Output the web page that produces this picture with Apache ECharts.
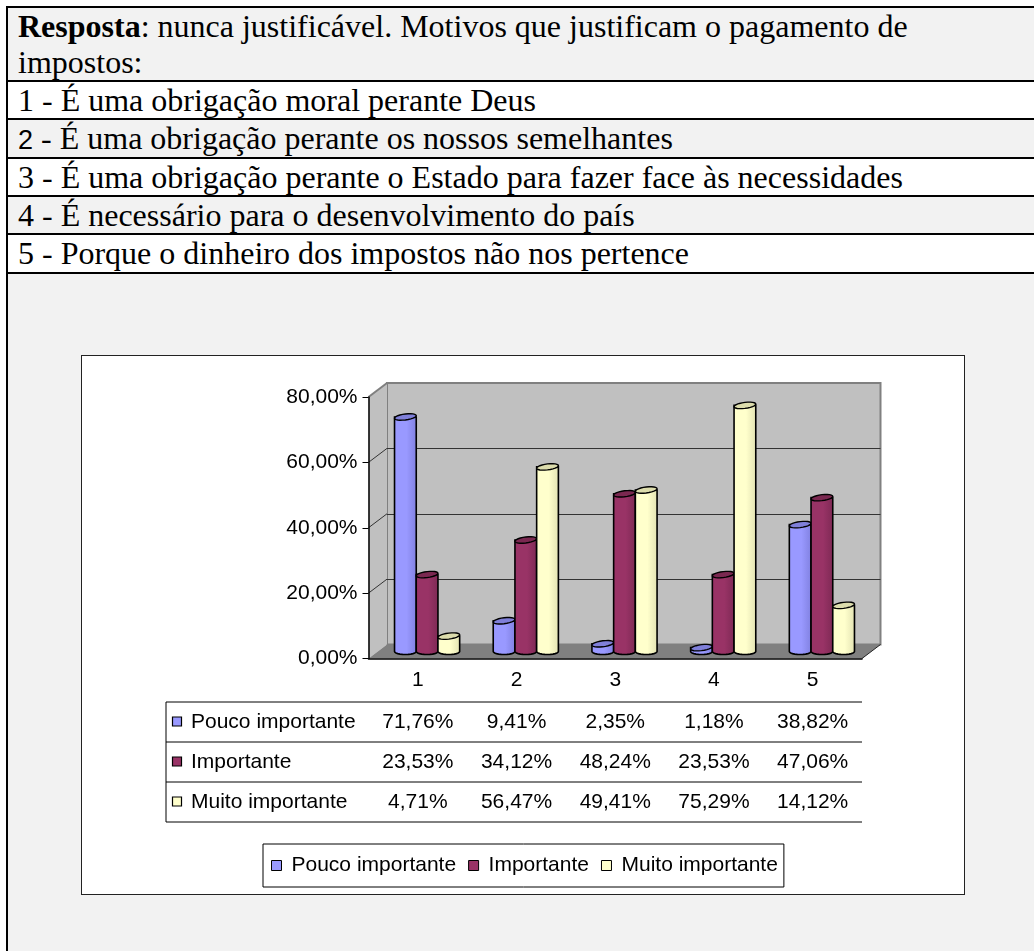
<!DOCTYPE html>
<html>
<head>
<meta charset="utf-8">
<script src="https://cdn.jsdelivr.net/npm/echarts@6/dist/echarts.min.js"></script>
<style>
  body { margin: 0; width: 1034px; height: 951px; overflow: hidden; position: relative; background: #fff; }
  .row { position: absolute; left: 8px; right: 0; border-top: 2px solid #000; box-sizing: border-box;
         font-family: "Liberation Serif", "Times New Roman", serif; font-size: 32px; line-height: 36px;
         color: #000; padding-left: 10px; white-space: nowrap; }
  .gray { background: #f2f2f2; }
  .white { background: #fff; }
  #leftline { position: absolute; left: 6px; top: 6px; width: 2px; height: 945px; background: #000; }
  #frame { position: absolute; left: 81px; top: 355px; width: 882px; height: 538px; border: 1px solid #222; background: #fff; }
  #chart { position: absolute; left: 0; top: 0; width: 1034px; height: 951px; }
  .sans { font-family: "Liberation Sans", Arial, sans-serif; font-size: 27px; }
</style>
</head>
<body>
<div class="row gray" style="top:6px;height:75px;">
  <b>Resposta</b>: nunca justificável. Motivos que justificam o pagamento de<br>impostos:
</div>
<div class="row white" style="top:80px;height:39px;">1 - É uma obrigação moral perante Deus</div>
<div class="row gray" style="top:118px;height:40px;"><span class="sans">2</span> - É uma obrigação perante os nossos semelhantes</div>
<div class="row white" style="top:157px;height:39px;">3 - É uma obrigação perante o Estado para fazer face às necessidades</div>
<div class="row gray" style="top:195px;height:39px;">4 - É necessário para o desenvolvimento do país</div>
<div class="row white" style="top:233px;height:40px;">5 - Porque o dinheiro dos impostos não nos pertence</div>
<div class="row gray" style="top:272px;height:679px;"></div>
<div id="leftline"></div>
<div id="frame"></div>
<div id="chart"></div>

<script>
// dados
var categories = ['1', '2', '3', '4', '5'];
var seriesNames = ['Pouco importante', 'Importante', 'Muito importante'];
var poucoImportante = [71.76, 9.41, 2.35, 1.18, 38.82];
var importante = [23.53, 34.12, 48.24, 23.53, 47.06];
var muitoImportante = [4.71, 56.47, 49.41, 75.29, 14.12];
var yTicks = [0, 20, 40, 60, 80];

var seriesData = [poucoImportante, importante, muitoImportante];
var colors = ['#9999ff', '#993366', '#ffffcc'];
var darkColors = ['#8080e0', '#7d2954', '#e2e2b2'];
var capColors = ['#7f7fd9', '#7a2850', '#dcdcac'];
var FONT = '"Liberation Sans", Arial, sans-serif';

// geometria do "3D"
var FRONT = { left: 368.5, top: 397, width: 493.5, height: 261.5 };
var DX = 18.5, DY = -14;
var ROWS = [702, 742, 782, 822];
var TABLE_LEFT = 166;

function fmt(v) {
    return v.toFixed(2).replace('.', ',') + '%';
}

var chart = echarts.init(document.getElementById('chart'));

function cylinder(params, api) {
    var i = api.value(0), v = api.value(1);
    var s = params.seriesIndex;
    var base = api.coord([i, 0]);
    var top = api.coord([i, v]);
    var band = api.size([1, 0])[0];
    var w = band * 0.22;
    var x0 = base[0] + (s - 1) * w - w / 2;
    var rx = w / 2, ry = 3, cx = x0 + rx;
    var body = [[x0, top[1]], [x0, base[1]]];
    for (var k = 1; k < 12; k++) {
        var t = Math.PI - Math.PI * k / 12;
        body.push([cx + rx * Math.cos(t), base[1] + ry * Math.sin(t)]);
    }
    body.push([x0 + w, base[1]], [x0 + w, top[1]]);
    var cap = [];
    for (var j = 0; j < 24; j++) {
        var a = Math.PI * 2 * j / 24;
        var ex = rx * Math.cos(a);
        cap.push([cx + ex, top[1] + ry * Math.sin(a) - ex * 0.12]);
    }
    return {
        type: 'group',
        children: [
            {
                type: 'polygon',
                shape: { points: body },
                style: {
                    fill: new echarts.graphic.LinearGradient(0, 0, 1, 0, [
                        { offset: 0, color: colors[s] },
                        { offset: 0.55, color: colors[s] },
                        { offset: 1, color: darkColors[s] }
                    ]),
                    stroke: '#000',
                    lineWidth: 1.6
                }
            },
            {
                type: 'polygon',
                shape: { points: cap },
                style: { fill: capColors[s], stroke: '#000', lineWidth: 1.4 }
            }
        ]
    };
}

var series = seriesNames.map(function (name, s) {
    return {
        name: name,
        type: 'custom',
        xAxisIndex: 2,
        yAxisIndex: 2,
        z: 5,
        itemStyle: { color: colors[s] },
        renderItem: cylinder,
        data: seriesData[s].map(function (v, i) { return [i, v]; })
    };
});

chart.setOption({
    animation: false,
    grid: [
        { left: FRONT.left + DX, top: FRONT.top + DY, width: FRONT.width, height: FRONT.height,
          show: true, backgroundColor: '#c0c0c0', borderColor: '#808080', borderWidth: 2 },
        { left: FRONT.left, top: FRONT.top, width: FRONT.width, height: FRONT.height },
        { left: FRONT.left + DX / 2, top: FRONT.top + DY / 2, width: FRONT.width, height: FRONT.height }
    ],
    xAxis: [
        { gridIndex: 0, type: 'category', data: categories, show: false },
        {
            gridIndex: 1, type: 'category', data: categories, z: 4,
            axisLine: { lineStyle: { color: '#000', width: 1.5 } },
            axisTick: { length: ROWS[3] - FRONT.top - FRONT.height, lineStyle: { color: '#000', width: 1 } },
            axisLabel: { fontSize: 21, color: '#000', fontFamily: FONT, margin: 11 }
        },
        { gridIndex: 2, type: 'category', data: categories, show: false }
    ],
    yAxis: [
        {
            gridIndex: 0, type: 'value', min: 0, max: 80, interval: 20,
            axisLine: { show: false }, axisTick: { show: false }, axisLabel: { show: false },
            splitLine: { lineStyle: { color: ['#808080', '#333', '#333', '#333', '#808080'], width: 1 } }
        },
        {
            gridIndex: 1, type: 'value', min: 0, max: 80, interval: 20, z: 4,
            axisLine: { show: true, lineStyle: { color: '#000', width: 1.5 } },
            axisTick: { show: true, length: 6, lineStyle: { color: '#000' } },
            axisLabel: { fontSize: 21, color: '#000', fontFamily: FONT, margin: 11, formatter: fmt },
            splitLine: { show: false }
        },
        { gridIndex: 2, type: 'value', min: 0, max: 80, show: false }
    ],
    legend: {
        data: seriesNames,
        left: 263,
        top: 844,
        icon: 'rect',
        itemWidth: 10,
        itemHeight: 10,
        itemGap: 12,
        padding: [11, 6, 11, 8],
        borderColor: '#000',
        borderWidth: 1,
        itemStyle: { borderColor: '#000', borderWidth: 1 },
        textStyle: { fontSize: 21, color: '#000', fontFamily: FONT, padding: [0, 0, 0, 5] }
    },
    series: series
});

// paredes, chao e tabela de dados
function yFront(v) { return chart.convertToPixel({ yAxisIndex: 1 }, v); }
function xFront(i) { return chart.convertToPixel({ xAxisIndex: 1 }, i); }

var L = FRONT.left, R = FRONT.left + FRONT.width;
var y0 = yFront(0), yTop = yFront(80);
var gfx = [];

gfx.push({
    type: 'polygon', z: 1,
    shape: { points: [[L, yTop], [L + DX, yTop + DY], [L + DX, y0 + DY], [L, y0]] },
    style: { fill: '#c0c0c0' }
});
gfx.push({
    type: 'line', z: 1,
    shape: { x1: L, y1: yTop, x2: L + DX, y2: yTop + DY },
    style: { stroke: '#808080', lineWidth: 2 }
});
yTicks.slice(1, -1).forEach(function (v) {
    var y = yFront(v);
    gfx.push({
        type: 'line', z: 1,
        shape: { x1: L, y1: y, x2: L + DX, y2: y + DY },
        style: { stroke: '#333', lineWidth: 1 }
    });
});
gfx.push({
    type: 'polygon', z: 1,
    shape: { points: [[L, y0], [L + DX, y0 + DY], [R + DX, y0 + DY], [R, y0]] },
    style: { fill: '#808080' }
});
gfx.push({
    type: 'line', z: 1,
    shape: { x1: R, y1: y0, x2: R + DX, y2: y0 + DY },
    style: { stroke: '#222', lineWidth: 1 }
});

// linhas da tabela
ROWS.forEach(function (y) {
    gfx.push({
        type: 'line', z: 1,
        shape: { x1: TABLE_LEFT, y1: y, x2: R, y2: y },
        style: { stroke: '#000', lineWidth: 1 }
    });
});
gfx.push({
    type: 'line', z: 1,
    shape: { x1: TABLE_LEFT, y1: ROWS[0], x2: TABLE_LEFT, y2: ROWS[3] },
    style: { stroke: '#000', lineWidth: 1 }
});

seriesNames.forEach(function (name, s) {
    var yc = (ROWS[s] + ROWS[s + 1]) / 2;
    gfx.push({
        type: 'rect', z: 2,
        shape: { x: TABLE_LEFT + 6.5, y: yc - 5, width: 9, height: 9 },
        style: { fill: colors[s], stroke: '#000', lineWidth: 1.2 }
    });
    gfx.push({
        type: 'text', z: 2,
        x: TABLE_LEFT + 25, y: yc,
        style: { text: name, fontSize: 21, fontFamily: FONT, fill: '#000', verticalAlign: 'middle', align: 'left' }
    });
    seriesData[s].forEach(function (v, i) {
        gfx.push({
            type: 'text', z: 2,
            x: xFront(i), y: yc,
            style: { text: fmt(v), fontSize: 21, fontFamily: FONT, fill: '#000', verticalAlign: 'middle', align: 'center' }
        });
    });
});

chart.setOption({ graphic: gfx });
</script>
</body>
</html>
